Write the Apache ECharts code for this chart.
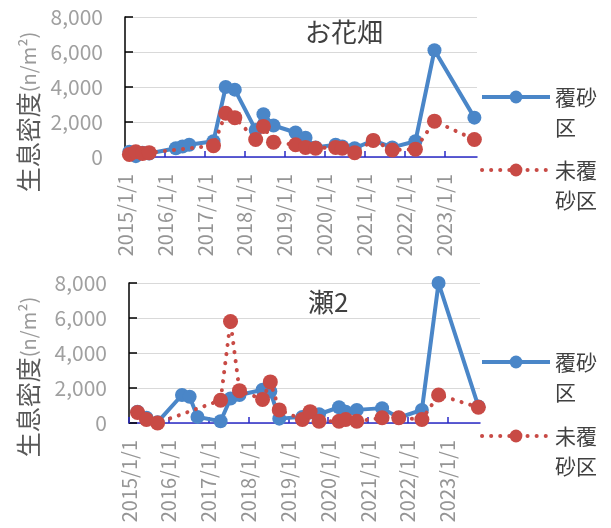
<!DOCTYPE html>
<html>
<head>
<meta charset="utf-8">
<script src="https://cdn.jsdelivr.net/npm/echarts@6/dist/echarts.min.js"></script>
<style>
  html, body { margin: 0; padding: 0; background: #ffffff; }
  #chart { width: 611px; height: 528px; }
</style>
</head>
<body>
<div id="chart"></div>
<script>
// Sampling dates and densities (n/m2) for site お花畑
const datesA = ['2015-02-10','2015-04-10','2015-06-10','2015-08-10','2016-04-10','2016-06-10','2016-08-10',
  '2017-03-20','2017-07-10','2017-10-01','2018-04-10','2018-06-20','2018-09-20','2019-04-10','2019-07-10',
  '2019-10-10','2020-04-10','2020-06-10','2020-10-01','2021-03-20','2021-09-10','2022-04-10','2022-10-01','2023-10-01'];
const coveredA = [300, 50, 250, 200, 500, 600, 700, 900, 4000, 3850, 1550, 2450, 1800, 1400, 1100,
  550, 700, 600, 500, 950, 550, 900, 6100, 2250];
const uncoveredA = [150, 300, 200, 250, null, null, null, 650, 2500, 2250, 1000, 1750, 850, 700, 550,
  500, 550, 500, 250, 950, 400, 450, 2050, 1000];

// Sampling dates and densities (n/m2) for site 瀬2
const datesB = ['2015-03-20','2015-06-10','2015-09-20','2016-05-01','2016-07-10','2016-09-20','2017-04-20',
  '2017-07-20','2017-10-10','2018-05-10','2018-07-20','2018-10-10','2019-05-10','2019-07-20','2019-10-10',
  '2020-04-10','2020-06-10','2020-09-20','2021-05-10','2021-10-10','2022-05-10','2022-10-10','2023-10-10'];
const coveredB = [650, 300, 50, 1600, 1500, 350, 100, 1400, 1600, 1900, 1800, 250, 350, 600, 500,
  900, 650, 750, 850, 300, 750, 8000, 950];
const uncoveredB = [600, 200, 0, null, null, null, 1300, 5800, 1850, 1350, 2350, 750, 200, 650, 100,
  100, 200, 100, 300, 300, 200, 1600, 900];

const siteNames = ['お花畑', '瀬2'];
const seriesNames = ['覆砂区', '未覆砂区'];
// legend text: a blank first line keeps the first text line level with the icon
const legendLabels = [' \n覆砂\n区', ' \n未覆\n砂区'];
const yTicks = [0, 2000, 4000, 6000, 8000];

const FONT = '"Noto Sans CJK JP", "Noto Sans", sans-serif';
const BLUE = '#4a86c8';
const RED = '#c84a45';
const RED_DOTS = [0.1, 9];
const pair = (dates, vals) => dates.map((d, i) => [d, vals[i]]);

const grids = [
  { left: 125, top: 17, width: 352, height: 140 },
  { left: 129, top: 283, width: 351, height: 140 }
];

function xAxisFor(idx) {
  return {
    type: 'time', gridIndex: idx,
    min: '2015-01-01', max: '2023-10-25',
    minInterval: 365 * 86400000, maxInterval: 366 * 86400000,
    axisLine: { lineStyle: { color: '#2a2ac8', width: 1.5 } },
    axisTick: { inside: true, length: 6, lineStyle: { color: '#2a2ac8', width: 1.5 } },
    splitLine: { show: false },
    axisLabel: {
      rotate: 90, formatter: '{yyyy}/{M}/{d}', color: '#959595',
      fontFamily: FONT, fontSize: 20, margin: 17, showMinLabel: true
    }
  };
}
function yAxisFor(idx) {
  return {
    type: 'value', gridIndex: idx, min: yTicks[0], max: yTicks[yTicks.length - 1], interval: 2000,
    axisLine: { show: true, lineStyle: { color: '#000', width: 1.5 } },
    axisTick: { show: true, inside: true, length: 8, lineStyle: { color: '#000', width: 1.5 } },
    splitLine: { lineStyle: { color: '#d9d9d9', width: 1.2 } },
    axisLabel: {
      color: '#a0a0a0', fontFamily: FONT, fontSize: 21, margin: 22,
      formatter: v => v.toLocaleString('en-US')
    }
  };
}
function coveredSeries(idx, data) {
  return {
    name: seriesNames[0], type: 'line', xAxisIndex: idx, yAxisIndex: idx, data,
    connectNulls: true, symbol: 'circle', symbolSize: 14, z: 3,
    lineStyle: { color: BLUE, width: 4 }, itemStyle: { color: BLUE }
  };
}
function uncoveredSeries(idx, data) {
  return {
    name: seriesNames[1], type: 'line', xAxisIndex: idx, yAxisIndex: idx, data,
    connectNulls: true, symbol: 'circle', symbolSize: 15, z: 4,
    lineStyle: { color: RED, width: 4, type: RED_DOTS, cap: 'round' }, itemStyle: { color: RED }
  };
}
function legendFor(iconY, nameIdx) {
  return {
    data: [seriesNames[nameIdx]], left: 480, top: iconY - 45, orient: 'vertical', padding: 0,
    itemWidth: 68, itemHeight: 16, itemGap: 0,
    lineStyle: nameIdx === 0 ? { width: 4 } : { width: 4, type: RED_DOTS, cap: 'round' },
    formatter: () => legendLabels[nameIdx],
    textStyle: { fontFamily: FONT, fontSize: 21, color: '#404040', lineHeight: 30 }
  };
}
function axisTitle(cy) {
  return {
    type: 'text', x: 28, y: cy, rotation: Math.PI / 2,
    style: {
      text: '{a|生息密度}{b|(n/m²)}', align: 'center', verticalAlign: 'middle',
      rich: {
        a: { fontFamily: FONT, fontSize: 25, fill: '#595959' },
        b: { fontFamily: FONT, fontSize: 20, fill: '#9a9a9a' }
      }
    }
  };
}

const chart = echarts.init(document.getElementById('chart'), null, { renderer: 'canvas' });
chart.setOption({
  animation: false,
  backgroundColor: '#ffffff',
  title: [
    { text: siteNames[0], left: 300, top: 14, textStyle: { fontFamily: FONT, fontSize: 26, fontWeight: 'normal', color: '#404040' } },
    { text: siteNames[1], left: 303, top: 284, textStyle: { fontFamily: FONT, fontSize: 26, fontWeight: 'normal', color: '#404040' } }
  ],
  grid: grids,
  xAxis: [xAxisFor(0), xAxisFor(1)],
  yAxis: [yAxisFor(0), yAxisFor(1)],
  legend: [legendFor(97, 0), legendFor(170, 1), legendFor(362, 0), legendFor(436, 1)],
  series: [
    coveredSeries(0, pair(datesA, coveredA)),
    uncoveredSeries(0, pair(datesA, uncoveredA)),
    coveredSeries(1, pair(datesB, coveredB)),
    uncoveredSeries(1, pair(datesB, uncoveredB))
  ],
  graphic: [axisTitle(112), axisTitle(377)]
});
</script>
</body>
</html>
